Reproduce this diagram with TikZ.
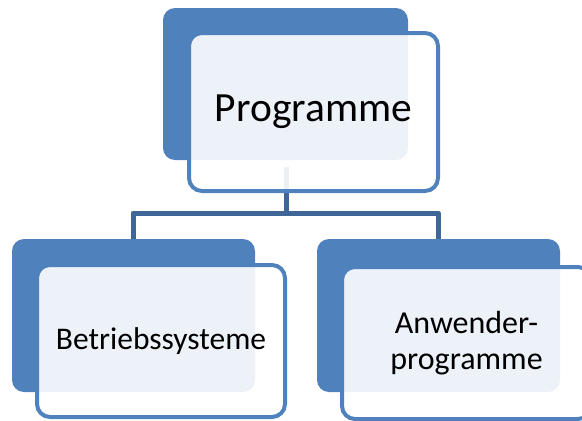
\documentclass[tikz,border=0pt]{standalone}
\usepackage{fontspec}
\setmainfont{Carlito}
\definecolor{accent}{HTML}{4F81BD}
\definecolor{linkblue}{HTML}{3E6797}
\begin{document}
\begin{tikzpicture}[x=1pt,y=-1pt,
  backbox/.style={rectangle, rounded corners=12pt, fill=accent, draw=none, inner sep=0pt, outer sep=0pt},
  frontbox/.style={rectangle, rounded corners=13pt, fill=white, fill opacity=0.9, text opacity=1, draw=accent, draw opacity=1, line width=4pt, inner sep=0pt, outer sep=0pt, align=center},
  link/.style={draw=linkblue, line width=5pt}
]
\useasboundingbox (0,0) rectangle (582,421);
% connectors
\coordinate (topstart) at (286,167);
\coordinate (bar) at (286,213);
\coordinate (barL) at (133,213);
\coordinate (barR) at (438,213);
\coordinate (dropL) at (133,245);
\coordinate (dropR) at (438,245);
\draw[link] (topstart) -- (bar);
\draw[link, line join=round] (dropL) -- (barL) -- (barR) -- (dropR);
% top
\node[backbox, minimum width=245pt, minimum height=152pt] (topback) at (285.5,84) {};
\node[frontbox, minimum width=249pt, minimum height=158pt, font=\fontsize{41.5}{46}\selectfont] (topfront) at (313.5,112) {Programme};
% left child
\node[backbox, minimum width=243pt, minimum height=153pt] (leftback) at (133.5,315.5) {};
\node[frontbox, minimum width=248pt, minimum height=152pt, font=\fontsize{31.5}{36}\selectfont] (leftfront) at (161,341) {Betriebssysteme};
% right child
\node[backbox, minimum width=243pt, minimum height=153pt] (rightback) at (438.5,315.5) {};
\node[frontbox, minimum width=249pt, minimum height=152pt, font=\fontsize{32}{36}\selectfont] (rightfront) at (466.5,343) {Anwender-\\programme};
\end{tikzpicture}
\end{document}
